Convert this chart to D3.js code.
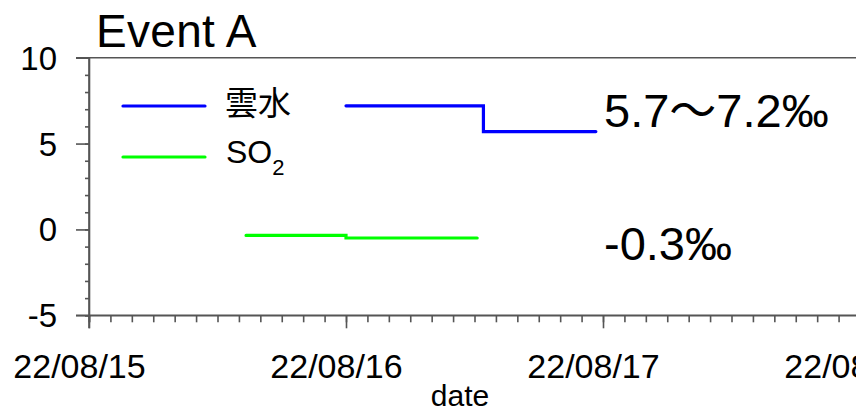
<!DOCTYPE html>
<html><head><meta charset="utf-8">
<script src="https://cdn.jsdelivr.net/npm/d3@7"></script>
<style>
body{margin:0;background:#fff;}
text{font-family:"Liberation Sans",Arial,"Noto Sans CJK JP",sans-serif;fill:#000;}
</style></head>
<body><svg id="c" width="856" height="413"></svg>
<script>
// ---- data ----
const xTickDates = ["2022-08-15","2022-08-16","2022-08-17","2022-08-18"];
const yTicks = [-5, 0, 5, 10];
const cloudTimes = ["2022-08-16T00:00","2022-08-16T12:50","2022-08-16T23:20"];
const cloudValues = [7.2, 5.7, 5.7];
const so2Times = ["2022-08-15T14:40","2022-08-16T00:00","2022-08-16T12:15"];
const so2Values = [-0.35, -0.5, -0.5];
const seriesNames = ["雲水", "SO2"];
const annotations = ["5.7～7.2‰", "-0.3‰"];
const titleText = "Event A";
const xLabel = "date";

const parse = d3.isoParse;
const svg = d3.select("#c");
const x = d3.scaleTime().domain([parse(xTickDates[0]), parse(xTickDates[3])]).range([89, 860]);
const y = d3.scaleLinear().domain([-5, 10]).range([315.3, 57.7]);
const axisColor = "#555";

// top frame line
svg.append("line").attr("x1", 76).attr("x2", 860).attr("y1", y(10)).attr("y2", y(10))
  .attr("stroke", axisColor).attr("stroke-width", 1.6);

// y minor ticks
const gyMinor = svg.append("g").attr("transform", `translate(${x.range()[0]},0)`)
  .call(d3.axisLeft(y).tickValues(d3.range(-5, 10.5, 1)).tickSize(4).tickFormat(""));
// y major
const gy = svg.append("g").attr("transform", `translate(${x.range()[0]},0)`)
  .call(d3.axisLeft(y).tickValues(yTicks).tickSize(13).tickPadding(19).tickFormat(d => String(d)));
gy.selectAll("text").attr("font-size", 33).attr("dy", "0.35em");
// x minor
const gxMinor = svg.append("g").attr("transform", `translate(0,${y(-5)})`)
  .call(d3.axisBottom(x).ticks(d3.timeHour.every(2)).tickSize(7).tickFormat(""));
// x major
const gx = svg.append("g").attr("transform", `translate(0,${y(-5)})`)
  .call(d3.axisBottom(x).tickValues(xTickDates.map(parse)).tickSize(13).tickFormat(d3.timeFormat("%y/%m/%d")));
gx.selectAll("text").attr("font-size", 34).attr("y", 0).attr("dy", 0)
  .attr("transform", "translate(-10,63)");

[gyMinor, gy, gxMinor, gx].forEach(g => {
  g.select(".domain").attr("stroke", axisColor).attr("stroke-width", 1.6);
  g.selectAll(".tick line").attr("stroke", axisColor).attr("stroke-width", 1.6);
  g.attr("font-family", null);
});
gy.select(".domain").attr("d", `M-13,${y(10)}H0V${y(-5)+13}`);
gx.select(".domain").attr("d", `M76,0H860`);

// series
const line = d3.line().x(d => x(d.t)).y(d => y(d.v)).curve(d3.curveStepAfter);
const cloud = cloudTimes.map((t, i) => ({t: parse(t), v: cloudValues[i]}));
const so2 = so2Times.map((t, i) => ({t: parse(t), v: so2Values[i]}));
const colors = ["#0000ff", "#00ff00"];
[cloud, so2].forEach((s, i) => {
  svg.append("path").datum(s).attr("d", line).attr("fill", "none")
    .attr("stroke", colors[i]).attr("stroke-width", 3.2).attr("stroke-linecap", "round");
});

// legend
const legY = [106, 157];
legY.forEach((ly, i) => {
  svg.append("line").attr("x1", 123).attr("x2", 205).attr("y1", ly).attr("y2", ly)
    .attr("stroke", colors[i]).attr("stroke-width", 3.2).attr("stroke-linecap", "round");
});
svg.append("text").attr("x", 225).attr("y", 115).attr("font-size", 33)
  .style("font-family", '"Noto Sans CJK JP",sans-serif').text(seriesNames[0]);
const so = svg.append("text").attr("x", 226).attr("y", 163).attr("font-size", 32);
so.append("tspan").text(seriesNames[1].slice(0, 2));
so.append("tspan").attr("font-size", 22).attr("dy", 12).text(seriesNames[1].slice(2));

// annotations
svg.append("text").attr("x", 604).attr("y", 127).attr("font-size", 47).text(annotations[0]);
svg.append("text").attr("x", 604).attr("y", 260).attr("font-size", 47).text(annotations[1]);

// title & axis label
svg.append("text").attr("x", 96).attr("y", 47).attr("font-size", 46).attr("letter-spacing", 0.3).text(titleText);
svg.append("text").attr("x", 460).attr("y", 406).attr("text-anchor", "middle").attr("font-size", 30).text(xLabel);
</script></body></html>
